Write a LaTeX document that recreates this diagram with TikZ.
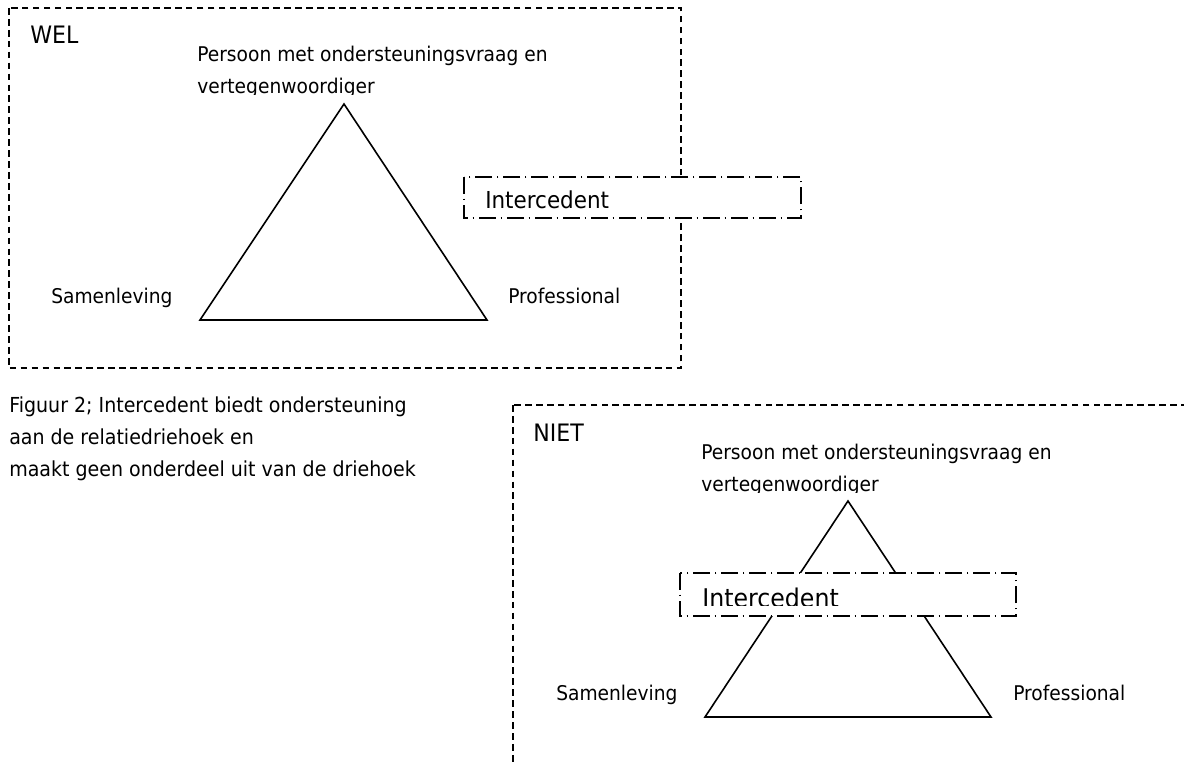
\documentclass[tikz,border=0pt]{standalone}
\usepackage{fontspec}
\setmainfont{DejaVu Sans}[FakeStretch=0.92]
\tikzset{
  lbl/.style={anchor=base west,inner sep=0pt,font=\fontsize{15.2pt}{24pt}\selectfont},
  title/.style={lbl,font=\fontsize{18pt}{20pt}\selectfont},
  panel/.style={line width=1.2pt,dash pattern=on 5pt off 3.2pt},
  tri/.style={line width=1.2pt,line join=miter},
  interbox/.style={fill=white,line width=1.2pt,dash pattern=on 12.5pt off 3.7pt on 1.1pt off 3.7pt}
}
\begin{document}
\begin{tikzpicture}[x=0.75pt,y=-0.75pt]
  \useasboundingbox (0,0) rectangle (1184,763);
  % WEL: intercedent naast de driehoek
  \draw[panel] (9,8) rectangle (681,368);
  \node[title] (wel) at (30,44) {WEL};
  \begin{scope}
    \clip (150,30) rectangle (620,95);
    \node[lbl] (welPersoonA) at (197,62) {Persoon met ondersteuningsvraag en};
    \node[lbl] (welPersoonB) at (197,94) {vertegenwoordiger};
  \end{scope}
  \coordinate (welTop) at (344,104);
  \coordinate (welLeft) at (200,320);
  \coordinate (welRight) at (487,320);
  \draw[tri] (welTop) -- (welLeft) -- (welRight) -- cycle;
  \node[lbl] (welSamen) at (51,303) {Samenleving};
  \node[lbl] (welProf) at (508,303) {Professional};
  \draw[interbox] (464,177) rectangle (801,218);
  \node[lbl,font=\fontsize{17.5pt}{20pt}\selectfont] (welInter) at (485,208) {Intercedent};
  % bijschrift
  \node[lbl,font=\fontsize{15.5pt}{24pt}\selectfont] (capA) at (9,412) {Figuur 2; Intercedent biedt ondersteuning};
  \node[lbl,font=\fontsize{15.5pt}{24pt}\selectfont] (capB) at (9,444) {aan de relatiedriehoek en};
  \node[lbl,font=\fontsize{15.5pt}{24pt}\selectfont] (capC) at (9,476) {maakt geen onderdeel uit van de driehoek};
  % NIET: intercedent in de driehoek
  \begin{scope}[shift={(504,397)}]
    \draw[panel] (9,8) rectangle (690,375);
    \node[title] (niet) at (29,44) {NIET};
    \begin{scope}
      \clip (150,30) rectangle (620,95);
      \node[lbl] (nietPersoonA) at (197,62) {Persoon met ondersteuningsvraag en};
      \node[lbl] (nietPersoonB) at (197,94) {vertegenwoordiger};
    \end{scope}
    \coordinate (nietTop) at (344,104);
    \coordinate (nietLeft) at (201,320);
    \coordinate (nietRight) at (487,320);
    \draw[tri] (nietTop) -- (nietLeft) -- (nietRight) -- cycle;
    \node[lbl] (nietSamen) at (52,303) {Samenleving};
    \node[lbl] (nietProf) at (509,303) {Professional};
    \draw[interbox] (176,176) rectangle (512,219);
    \begin{scope}
      \clip (180,180) rectangle (508,208);
      \node[lbl,font=\fontsize{19.3pt}{20pt}\selectfont] (nietInter) at (198,210) {Intercedent};
    \end{scope}
  \end{scope}
\end{tikzpicture}
\end{document}
